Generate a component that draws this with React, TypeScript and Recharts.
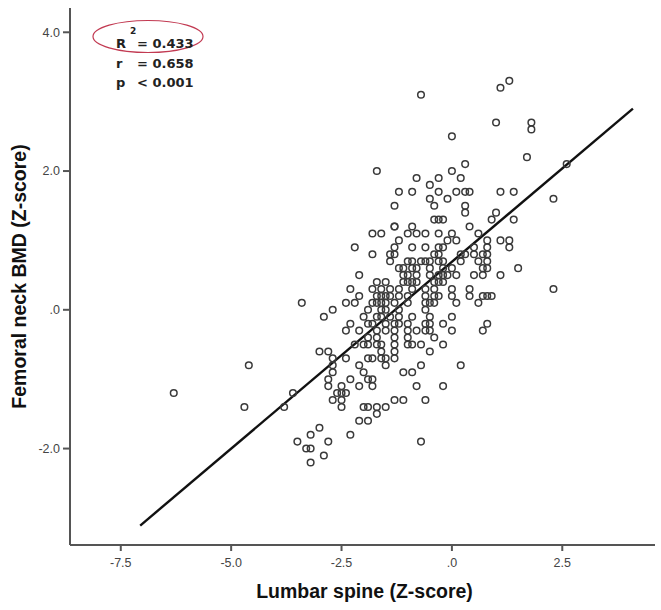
import { ScatterChart, Scatter, XAxis, YAxis, ReferenceLine } from 'recharts';

// femoral neck Z-score levels (y), each with the lumbar spine Z-scores (x) read at that level
const femoralLevels = [
  3.3, 3.2, 3.1, 2.7, 2.6, 2.5, 2.2, 2.1, 2.0, 1.9, 1.8, 1.7, 1.6, 1.5, 1.4, 1.3, 1.2, 1.1, 1.0, 0.9,
  0.8, 0.7, 0.6, 0.5, 0.4, 0.3, 0.2, 0.1, 0.0, -0.1, -0.2, -0.3, -0.4, -0.5, -0.6, -0.7, -0.8, -0.9,
  -1.0, -1.1, -1.2, -1.3, -1.4, -1.5, -1.6, -1.7, -1.8, -1.9, -2.0, -2.1, -2.2,
];

const lumbarAtLevel = [
  [1.3],
  [1.1],
  [-0.7],
  [1.0, 1.8],
  [1.8],
  [0.0],
  [1.7],
  [0.3, 2.6],
  [-1.7, 0.0],
  [-0.8, -0.3, 0.2],
  [-0.5],
  [-1.2, -0.9, -0.3, 0.1, 0.3, 0.4, 1.1, 1.4],
  [-0.5, -0.1, 2.3],
  [-1.3, -0.4, 0.3],
  [0.3, 1.0],
  [-0.4, -0.3, -0.2, 0.9, 1.4],
  [-1.3, -1.3, -0.9, 0.4],
  [-1.8, -1.6, -1.0, -0.8, -0.6, -0.3, 0.0, 0.6],
  [-1.2, -0.1, 0.1, 0.8, 1.1, 1.3],
  [-2.2, -1.3, -0.9, -0.6, -0.3, -0.2, 0.5, 0.8, 1.3],
  [-1.8, -1.4, -1.3, -0.4, -0.3, 0.2, 0.3, 0.5, 0.7, 0.8],
  [-1.4, -1.0, -0.9, -0.7, -0.6, -0.5, -0.3, -0.2, 0.2, 0.6, 0.8],
  [-1.2, -1.1, -0.9, -0.8, -0.5, -0.2, 0.0, 0.7, 0.8, 1.5],
  [-2.1, -1.1, -1.0, -0.8, -0.5, -0.3, -0.2, -0.1, 0.1, 0.5, 0.7, 1.1],
  [-1.7, -1.5, -1.1, -1.0, -0.9, -0.8, -0.4, -0.3, -0.2],
  [-2.3, -1.8, -1.6, -1.4, -1.2, -0.9, -0.6, -0.4, 0.0, 0.4, 2.3],
  [-2.1, -1.7, -1.6, -1.5, -1.4, -1.2, -1.0, -0.6, -0.4, -0.3, 0.0, 0.4, 0.7, 0.8, 0.9],
  [-3.4, -2.4, -2.2, -1.8, -1.7, -1.6, -1.5, -1.3, -1.0, -0.6, -0.5, -0.4, 0.1, 0.6],
  [-2.7, -1.9, -1.6, -1.5, -1.2, -0.6],
  [-2.9, -2.0, -1.7, -1.6, -1.4, -1.2, -0.9, -0.5, 0.0],
  [-2.3, -1.9, -1.8, -1.5, -1.3, -1.2, -1.0, -0.6, -0.5, -0.2, 0.8],
  [-2.4, -2.1, -1.7, -1.5, -1.3, -1.0, -0.8, -0.6, -0.5, 0.0, 0.7],
  [-1.9, -1.7, -1.3, -1.0, -0.4],
  [-2.2, -2.0, -1.9, -1.7, -1.6, -1.3, -1.0, -0.9, -0.7, -0.2],
  [-3.0, -2.8, -1.6, -1.3, -0.5],
  [-2.7, -2.4, -1.9, -1.8, -1.6, -1.5, -1.3],
  [-4.6, -2.7, -2.1, -1.5, -0.7, 0.2],
  [-2.7, -2.0, -1.1, -0.9],
  [-2.8, -2.3, -1.9, -1.8],
  [-2.8, -2.5, -2.1, -1.8, -0.8, -0.2],
  [-6.3, -3.6, -2.6, -2.5, -2.4],
  [-2.7, -2.5, -1.3, -1.1, -0.6],
  [-4.7, -3.8, -2.5, -2.0, -1.9, -1.7, -1.5],
  [-1.7],
  [-2.1, -1.9],
  [-3.0],
  [-3.2, -2.3],
  [-3.5, -2.8, -0.7],
  [-3.3, -3.2],
  [-2.9],
  [-3.2],
];

// ends of the fit line as drawn
const fitLumbar = [-7.06, 4.1];
const fitFemoral = [-3.11, 2.9];

const xTicks = [-7.5, -5.0, -2.5, 0.0, 2.5];
const yTicks = [-2.0, 0.0, 2.0, 4.0];

const points = femoralLevels.flatMap((y, i) => lumbarAtLevel[i].map((x) => ({ x, y })));

// SPSS style: ".0" for zero
const fmt = (v: number) => (v === 0 ? '.0' : v.toFixed(1));

const tickStyle = { fontSize: 12.5, fill: '#444', fontFamily: '"Liberation Sans", Arial, sans-serif' };
const titleFont = '"Liberation Sans", Arial, sans-serif';

const Ring = (props: any) => (
  <circle cx={props.cx} cy={props.cy} r={3.3} fill="none" stroke="#3a3a3a" strokeWidth={1.5} />
);

export default function App() {
  return (
    <div style={{ position: 'absolute', left: 0, top: 0, width: 661, height: 610, background: '#fff' }}>
      <ScatterChart width={661} height={610} margin={{ top: 8, right: 6, bottom: 0, left: 0 }}>
        <XAxis
          type="number"
          dataKey="x"
          domain={[-8.65, 4.6]}
          ticks={xTicks}
          tickFormatter={fmt}
          allowDataOverflow
          height={65}
          stroke="#555"
          strokeWidth={2}
          tickSize={6}
          tickMargin={7}
          tick={tickStyle}
          label={{
            content: (p: any) => {
              const vb = p.viewBox;
              return (
                <text
                  x={vb.x + vb.width / 2 + 2}
                  y={vb.y + 53}
                  textAnchor="middle"
                  fontSize={19.5}
                  fontWeight="bold"
                  fontFamily={titleFont}
                  fill="#111"
                >
                  Lumbar spine (Z-score)
                </text>
              );
            },
          }}
        />
        <YAxis
          type="number"
          dataKey="y"
          domain={[-3.39, 4.35]}
          ticks={yTicks}
          tickFormatter={fmt}
          allowDataOverflow
          width={70}
          stroke="#555"
          strokeWidth={2}
          tickSize={7}
          tickMargin={3}
          tick={tickStyle}
          label={{
            content: (p: any) => {
              const vb = p.viewBox;
              const cy = vb.y + vb.height / 2;
              return (
                <text
                  x={26}
                  y={cy}
                  transform={`rotate(-90, 26, ${cy})`}
                  textAnchor="middle"
                  fontSize={19.5}
                  fontWeight="bold"
                  fontFamily={titleFont}
                  fill="#111"
                >
                  Femoral neck BMD (Z-score)
                </text>
              );
            },
          }}
        />
        <ReferenceLine
          segment={[
            { x: fitLumbar[0], y: fitFemoral[0] },
            { x: fitLumbar[1], y: fitFemoral[1] },
          ]}
          stroke="#111"
          strokeWidth={2.4}
          ifOverflow="visible"
        />
        <Scatter data={points} shape={Ring} isAnimationActive={false} />
      </ScatterChart>
      <svg
        width={661}
        height={610}
        style={{ position: 'absolute', left: 0, top: 0, pointerEvents: 'none' }}
      >
        <ellipse cx={148} cy={36.5} rx={55} ry={16} fill="none" stroke="#c23a52" strokeWidth={1.2} />
        <g fontFamily='"DejaVu Sans", Verdana, sans-serif' fontWeight="bold" fontSize={13} fill="#222">
          <text x={116} y={48}>R</text>
          <text x={130} y={34} fontSize={9}>2</text>
          <text x={137} y={48}>= 0.433</text>
          <text x={116} y={68}>r</text>
          <text x={137} y={68}>= 0.658</text>
          <text x={116} y={87}>p</text>
          <text x={137} y={87}>&lt; 0.001</text>
        </g>
      </svg>
    </div>
  );
}
